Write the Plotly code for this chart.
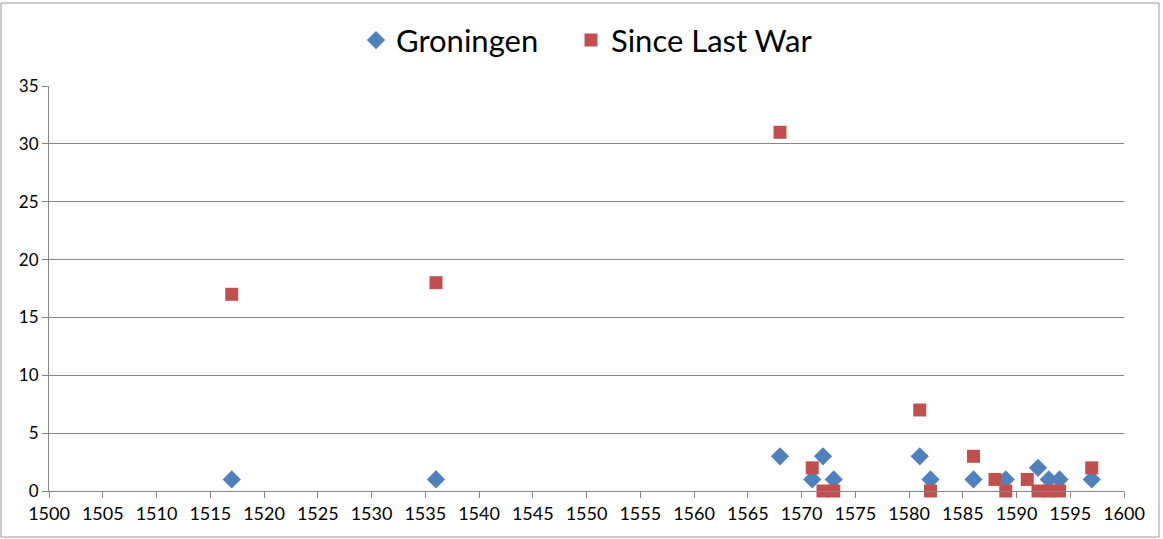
import plotly.graph_objects as go

gron_years = [1517, 1536, 1568, 1571, 1572, 1573, 1581, 1582, 1586, 1589, 1592, 1593, 1594, 1597]
gron_vals = [1, 1, 3, 1, 3, 1, 3, 1, 1, 1, 2, 1, 1, 1]

war_years = [1517, 1536, 1568, 1571, 1572, 1573, 1581, 1582, 1586, 1588, 1589, 1591, 1592, 1593, 1594, 1597]
war_vals = [17, 18, 31, 2, 0, 0, 7, 0, 3, 1, 0, 1, 0, 0, 0, 2]

x_ticks = list(range(1500, 1601, 5))
y_ticks = list(range(0, 36, 5))

font_family = "Lato, Liberation Sans, sans-serif"

fig = go.Figure()
fig.add_trace(go.Scatter(
    x=gron_years, y=gron_vals, mode="markers", name="Groningen",
    marker=dict(symbol="diamond", size=14, color="#4F81BD"),
    cliponaxis=False, legend="legend",
))
fig.add_trace(go.Scatter(
    x=war_years, y=war_vals, mode="markers", name="Since Last War",
    marker=dict(symbol="square", size=13, color="#C0504D"),
    cliponaxis=False, legend="legend2",
))

leg_common = dict(orientation="h", xanchor="left", y=0.925, yanchor="middle",
                  yref="container", xref="container", font=dict(size=31, color="#000000"),
                  itemwidth=30, bgcolor="rgba(0,0,0,0)")

fig.update_layout(
    width=1163, height=539,
    margin=dict(l=49, r=39, t=86, b=48, autoexpand=False),
    paper_bgcolor="white", plot_bgcolor="white",
    font=dict(family=font_family, color="#000000"),
    legend=dict(x=(376 - 20) / 1163, **leg_common),
    legend2=dict(x=(591 - 20) / 1163, **leg_common),
    showlegend=True,
    shapes=[dict(type="rect", xref="paper", yref="paper", x0=-48/1075, x1=1+35/1075,
                 y0=-46/405, y1=1+83/405, line=dict(color="#9a9a9a", width=1))],
)

fig.update_xaxes(
    range=[1500, 1600], tickvals=x_ticks, ticktext=[str(v) for v in x_ticks],
    showgrid=False, zeroline=False, showline=True, linecolor="#868686", linewidth=1,
    ticks="outside", ticklen=6, tickcolor="#868686", automargin=False,
    tickfont=dict(size=18, color="#000000"),
)
fig.update_yaxes(
    range=[0, 35], tickvals=y_ticks, ticktext=[str(v) for v in y_ticks],
    showgrid=True, gridcolor="#868686", gridwidth=1, zeroline=False,
    showline=True, linecolor="#868686", linewidth=1,
    ticks="outside", ticklen=6, tickcolor="#868686", automargin=False,
    tickfont=dict(size=17, color="#000000"),
)

fig.write_html("out.html", config={"displayModeBar": False},
               post_script="document.body.style.margin='0';")
